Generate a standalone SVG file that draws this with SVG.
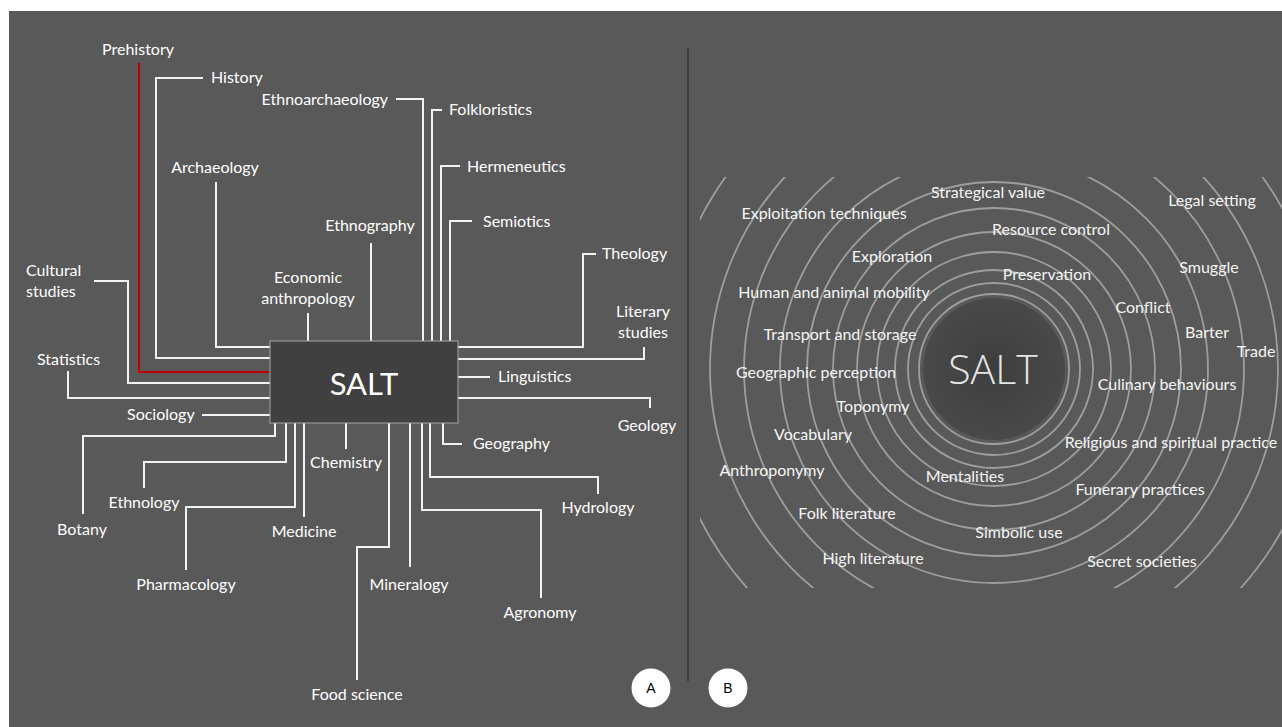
<svg xmlns="http://www.w3.org/2000/svg" width="1282" height="727" viewBox="0 0 1282 727">
<style>
.lbl{font-family:Lato,"Open Sans","Liberation Sans",sans-serif;font-size:16px;fill:#ffffff}
.m{text-anchor:middle}
.e{text-anchor:end}
.ln{fill:none;stroke:#f2f2f2;stroke-width:2}
.red{fill:none;stroke:#c00000;stroke-width:2}
.ring{fill:none;stroke:#9e9e9e;stroke-width:1.8}
.rl{font-family:Lato,"Open Sans","Liberation Sans",sans-serif;font-size:16px;fill:#f5f5f5;text-anchor:middle}
</style>
<defs>
<clipPath id="ringclip"><rect x="700" y="177" width="582" height="411"/></clipPath>
<radialGradient id="core" cx="0.5" cy="0.5" r="0.5">
<stop offset="0" stop-color="#3e3e3e"/>
<stop offset="1" stop-color="#494949"/>
</radialGradient>
</defs>
<rect x="0" y="0" width="1282" height="727" fill="#ffffff"/>
<rect x="9" y="11" width="1273" height="716" fill="#595959"/>
<line x1="688" y1="48" x2="688" y2="681" stroke="#333333" stroke-width="1.5"/>

<g id="connectors">
<path class="red" d="M139,63 V372 H270"/>
<path class="ln" d="M203,78 H156 V358 H270"/>
<path class="ln" d="M396,99 H423 V341"/>
<path class="ln" d="M442,110 H432 V341"/>
<path class="ln" d="M460,166 H441 V341"/>
<path class="ln" d="M472,221 H450 V341"/>
<path class="ln" d="M596,254 H583 V347 H458"/>
<path class="ln" d="M644,347 V359 H458"/>
<path class="ln" d="M216,182 V347 H270"/>
<path class="ln" d="M371,243 V341"/>
<path class="ln" d="M308,313 V341"/>
<path class="ln" d="M94,281 H128 V383 H270"/>
<path class="ln" d="M68,371 V398 H270"/>
<path class="ln" d="M202,415 H270"/>
<path class="ln" d="M275,423 V436 H83 V514"/>
<path class="ln" d="M286,423 V462 H144 V488"/>
<path class="ln" d="M295,423 V507 H186 V570"/>
<path class="ln" d="M304,423 V517"/>
<path class="ln" d="M346,423 V449"/>
<path class="ln" d="M389,423 V547 H357 V680"/>
<path class="ln" d="M410,423 V567"/>
<path class="ln" d="M422,423 V510 H541 V598"/>
<path class="ln" d="M430,423 V477 H598 V494"/>
<path class="ln" d="M443,423 V444 H462"/>
<path class="ln" d="M458,377 H490"/>
<path class="ln" d="M458,398 H650 V408"/>
</g>

<g id="salt-box">
<rect x="270" y="341" width="188" height="82" fill="#404040" stroke="#a6a6a6" stroke-width="1"/>
<text x="364" y="395" text-anchor="middle" font-family="Lato,'Open Sans','Liberation Sans',sans-serif" font-size="31" fill="#ffffff">SALT</text>
</g>

<g id="n-prehistory"><text class="lbl m" x="138" y="55">Prehistory</text></g>
<g id="n-history"><text class="lbl" x="211" y="83">History</text></g>
<g id="n-ethnoarchaeology"><text class="lbl e" x="388" y="105">Ethnoarchaeology</text></g>
<g id="n-folkloristics"><text class="lbl" x="449" y="115">Folkloristics</text></g>
<g id="n-hermeneutics"><text class="lbl" x="467" y="172">Hermeneutics</text></g>
<g id="n-semiotics"><text class="lbl" x="483" y="227">Semiotics</text></g>
<g id="n-theology"><text class="lbl" x="602" y="259">Theology</text></g>
<g id="n-literary"><text class="lbl m" x="643" y="317">Literary</text><text class="lbl m" x="643" y="338">studies</text></g>
<g id="n-archaeology"><text class="lbl m" x="215" y="173">Archaeology</text></g>
<g id="n-ethnography"><text class="lbl m" x="370" y="231">Ethnography</text></g>
<g id="n-economic"><text class="lbl m" x="308" y="283">Economic</text><text class="lbl m" x="308" y="304">anthropology</text></g>
<g id="n-cultural"><text class="lbl" x="26" y="276">Cultural</text><text class="lbl" x="26" y="297">studies</text></g>
<g id="n-statistics"><text class="lbl" x="37" y="365">Statistics</text></g>
<g id="n-sociology"><text class="lbl" x="127" y="420">Sociology</text></g>
<g id="n-botany"><text class="lbl m" x="82" y="535">Botany</text></g>
<g id="n-ethnology"><text class="lbl m" x="144" y="508">Ethnology</text></g>
<g id="n-pharmacology"><text class="lbl m" x="186" y="590">Pharmacology</text></g>
<g id="n-medicine"><text class="lbl m" x="304" y="537">Medicine</text></g>
<g id="n-chemistry"><text class="lbl m" x="346" y="468">Chemistry</text></g>
<g id="n-foodscience"><text class="lbl m" x="357" y="700">Food science</text></g>
<g id="n-mineralogy"><text class="lbl m" x="409" y="590">Mineralogy</text></g>
<g id="n-agronomy"><text class="lbl m" x="540" y="618">Agronomy</text></g>
<g id="n-hydrology"><text class="lbl m" x="598" y="513">Hydrology</text></g>
<g id="n-geography"><text class="lbl" x="473" y="449">Geography</text></g>
<g id="n-linguistics"><text class="lbl" x="498" y="382">Linguistics</text></g>
<g id="n-geology"><text class="lbl m" x="647" y="431">Geology</text></g>

<g id="badge-a"><circle cx="651" cy="688" r="19.5" fill="#ffffff"/><text x="651" y="693" text-anchor="middle" font-family="'Liberation Sans',sans-serif" font-size="14" fill="#000000">A</text></g>
<g id="badge-b"><circle cx="728" cy="688" r="19.5" fill="#ffffff"/><text x="728" y="693" text-anchor="middle" font-family="'Liberation Sans',sans-serif" font-size="14" fill="#000000">B</text></g>

<g id="rings" clip-path="url(#ringclip)">
<circle class="ring" cx="994" cy="369" r="75"/>
<circle class="ring" cx="994" cy="369" r="86"/>
<circle class="ring" cx="994" cy="369" r="99"/>
<circle class="ring" cx="994" cy="369" r="117"/>
<circle class="ring" cx="994" cy="369" r="137"/>
<circle class="ring" cx="994" cy="369" r="161"/>
<circle class="ring" cx="994" cy="369" r="187"/>
<circle class="ring" cx="994" cy="369" r="214"/>
<circle class="ring" cx="994" cy="369" r="250"/>
<circle class="ring" cx="994" cy="369" r="284"/>
<circle class="ring" cx="994" cy="369" r="330"/>
</g>
<g id="salt-core">
<circle cx="994" cy="369" r="71" fill="url(#core)"/>
<text x="993" y="384" text-anchor="middle" font-family="'Open Sans',Lato,'Liberation Sans',sans-serif" font-weight="300" font-size="41" fill="#e6e6e6">SALT</text>
</g>

<g id="aspects">
<text class="rl" x="988" y="198">Strategical value</text>
<text class="rl" x="824" y="219">Exploitation techniques</text>
<text class="rl" x="1212" y="206">Legal setting</text>
<text class="rl" x="1051" y="235">Resource control</text>
<text class="rl" x="892" y="262">Exploration</text>
<text class="rl" x="1209" y="273">Smuggle</text>
<text class="rl" x="1047" y="280">Preservation</text>
<text class="rl" x="834" y="298">Human and animal mobility</text>
<text class="rl" x="1143" y="313">Conflict</text>
<text class="rl" x="1207" y="338">Barter</text>
<text class="rl" x="840" y="340">Transport and storage</text>
<text class="rl" x="1256" y="357">Trade</text>
<text class="rl" x="816" y="378">Geographic perception</text>
<text class="rl" x="1167" y="390">Culinary behaviours</text>
<text class="rl" x="873" y="412">Toponymy</text>
<text class="rl" x="813" y="440">Vocabulary</text>
<text class="rl" x="1171" y="448">Religious and spiritual practice</text>
<text class="rl" x="772" y="476">Anthroponymy</text>
<text class="rl" x="965" y="482">Mentalities</text>
<text class="rl" x="1140" y="495">Funerary practices</text>
<text class="rl" x="847" y="519">Folk literature</text>
<text class="rl" x="1019" y="538">Simbolic use</text>
<text class="rl" x="873" y="564">High literature</text>
<text class="rl" x="1142" y="567">Secret societies</text>
</g>
</svg>
